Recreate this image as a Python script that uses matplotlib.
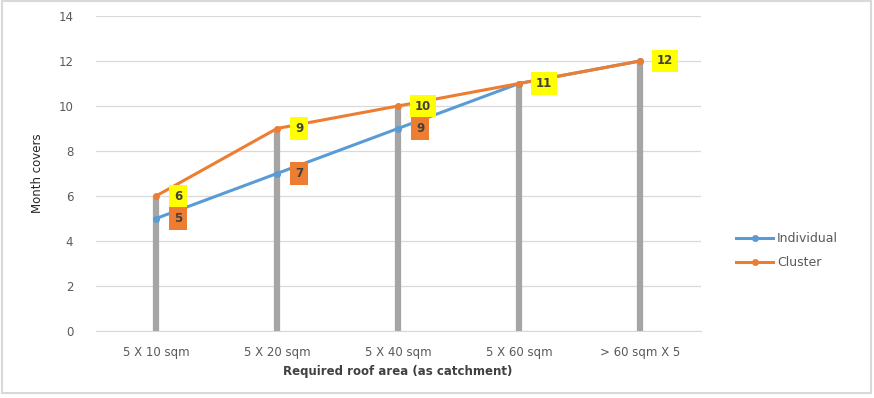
import numpy as np
import matplotlib
matplotlib.use("Agg")
import matplotlib.pyplot as plt

# roof area categories and months of storage cover
categories = ["5 X 10 sqm", "5 X 20 sqm", "5 X 40 sqm", "5 X 60 sqm", "> 60 sqm X 5"]
individual = [5, 7, 9, 11, 12]
cluster = [6, 9, 10, 11, 12]
# which points get a value label
individual_labels = [True, True, True, False, False]
cluster_labels = [True, True, True, True, True]

blue = "#5b9bd5"
orange = "#ed7d31"
grey = "#a5a5a5"

fig = plt.figure(figsize=(8.74, 3.98), dpi=100)
ax = fig.add_axes([95.5 / 874, 67 / 398, 605 / 874, 315 / 398])

x = np.arange(len(categories))
top = np.maximum(individual, cluster)

# drop lines from the axis up to the highest point
ax.vlines(x, 0, top, colors=grey, linewidth=4.5, zorder=2)

ax.plot(x, individual, color=blue, linewidth=2.2, marker="o", markersize=4,
        label="Individual", zorder=3)
ax.plot(x, cluster, color=orange, linewidth=2.2, marker="o", markersize=4,
        label="Cluster", zorder=4)

for xi, v, show in zip(x, individual, individual_labels):
    if show:
        ax.annotate(str(v), (xi, v), xytext=(16, 0), textcoords="offset points",
                    ha="center", va="center", fontsize=8.5, fontweight="bold",
                    color="#404040", zorder=6,
                    bbox=dict(boxstyle="square,pad=0.4", fc=orange, ec="none"))
for xi, v, show in zip(x, cluster, cluster_labels):
    if show:
        ax.annotate(str(v), (xi, v), xytext=(16 if v < 10 else 18, 0),
                    textcoords="offset points", ha="center", va="center",
                    fontsize=8.5, fontweight="bold", color="#404040", zorder=6,
                    bbox=dict(boxstyle="square,pad=0.4", fc="#ffff00", ec="none"))

ax.set_xlim(-0.5, len(categories) - 0.5)
ax.set_ylim(0, 14)
ax.set_yticks(range(0, 15, 2))
ax.set_xticks(x)
ax.set_xticklabels(categories)
ax.tick_params(axis="both", length=0, labelsize=8.5, colors="#595959")
ax.tick_params(axis="x", pad=11)
ax.tick_params(axis="y", pad=16)
ax.grid(axis="y", color="#d9d9d9", linewidth=0.9)
ax.set_axisbelow(True)
for side in ["top", "right", "left"]:
    ax.spines[side].set_visible(False)
ax.spines["bottom"].set_color("#d9d9d9")

ax.set_ylabel("Month covers", fontsize=8.5, color="#262626", labelpad=10)
ax.set_xlabel("Required roof area (as catchment)", fontsize=8.5, fontweight="bold",
              color="#404040", labelpad=4)

ax.legend(loc="center left", bbox_to_anchor=(1.04, 0.255),
          frameon=False, fontsize=9, labelcolor="#595959", handlelength=3,
          labelspacing=0.9, handletextpad=0.3)

# thin frame around the chart area
fig.patches.append(plt.Rectangle((0.002, 0.012), 0.994, 0.985, transform=fig.transFigure,
                                 fill=False, ec="#d9d9d9", lw=1.5))

fig.savefig("out.png", dpi=100)
